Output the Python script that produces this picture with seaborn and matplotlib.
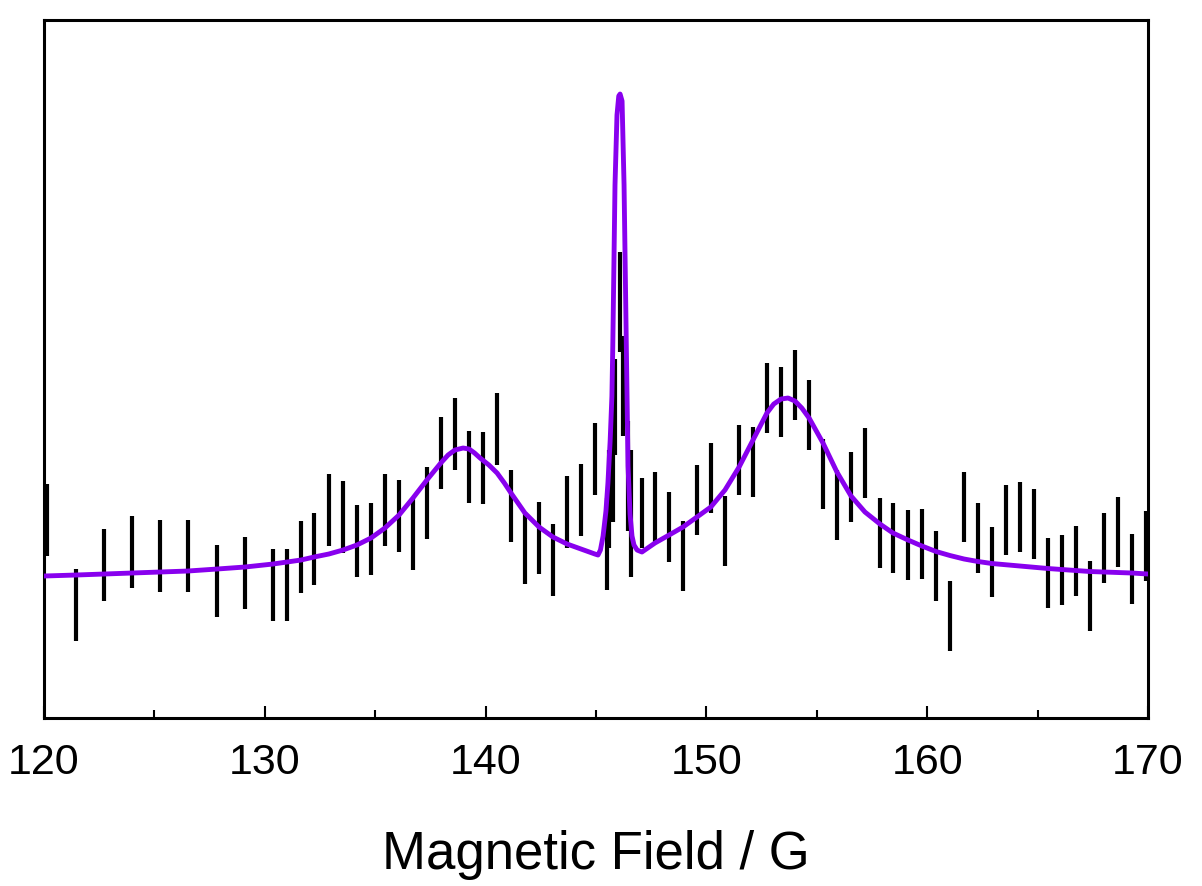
import numpy as np
import pandas as pd
import matplotlib
matplotlib.use("Agg")
import matplotlib.pyplot as plt
import seaborn as sns
from matplotlib.ticker import MultipleLocator

# measured points (field in G, signal in arbitrary units, half error bar)
field = [120.14, 121.45, 122.73, 124.00, 125.25, 126.52, 127.82, 129.09, 130.37,
         130.99, 131.63, 132.24, 132.89, 133.53, 134.16, 134.80, 135.46, 136.08,
         136.73, 137.33, 137.99, 138.60, 139.26, 139.87, 140.53, 141.16, 141.80,
         142.43, 143.07, 143.70, 144.33, 144.97,
         145.50, 145.61, 145.75, 145.88, 146.09, 146.24, 146.45, 146.59,
         147.07, 147.69, 148.32, 148.95, 149.59, 150.22, 150.86, 151.49, 152.12,
         152.76, 153.39, 154.03, 154.66, 155.29, 155.93, 156.56, 157.20, 157.86,
         158.46, 159.13, 159.76, 160.40, 161.02, 161.65, 162.29, 162.92, 163.57,
         164.20, 164.84, 165.48, 166.12, 166.75, 167.39, 168.02, 168.66, 169.29,
         169.91]
signal = [0.56, -0.285, 0.11, 0.24, 0.20, 0.205, -0.05, 0.035, -0.09,
          -0.09, 0.19, 0.27, 0.665, 0.59, 0.35, 0.37, 0.66, 0.60,
          0.42, 0.73, 1.23, 1.42, 1.09, 1.08, 1.475, 0.705, 0.28,
          0.38, 0.165, 0.64, 0.765, 1.175,
          0.32, 0.77, 1.04, 1.69, 2.74, 1.90, 1.00, 0.625,
          0.63, 0.69, 0.49, 0.205, 0.765, 0.98, 0.45, 1.16, 1.14,
          1.78, 1.745, 1.915, 1.61, 1.025, 0.71, 0.89, 1.13, 0.435,
          0.38, 0.315, 0.325, 0.10, -0.40, 0.695, 0.385, 0.145, 0.565,
          0.595, 0.525, 0.035, 0.06, 0.155, -0.195, 0.285, 0.445, 0.075,
          0.305]
error = [0.36] * 32 + [0.46, 0.49, 0.50, 0.48, 0.50, 0.50, 0.55, 0.635] + [0.35] * 37

# fitted spectrum
fit_field = [120.00, 121.45, 122.72, 123.99, 125.25, 126.52, 127.84, 129.10, 130.37,
             131.64, 132.23, 132.90, 133.54, 134.17, 134.81, 135.44, 136.08, 136.71,
             137.34, 137.97, 138.30, 138.61, 138.98, 139.25, 139.50, 139.75, 140.15,
             140.52, 140.85, 141.15, 141.78, 142.42, 143.05, 143.69, 144.32, 144.95,
             145.09, 145.20, 145.32, 145.45, 145.54, 145.64, 145.72, 145.76, 145.81,
             145.86, 145.95, 146.03, 146.09, 146.18, 146.27, 146.36, 146.45, 146.54,
             146.63, 146.72, 146.86, 147.08, 147.67, 148.31, 148.94, 149.57, 150.20,
             150.84, 151.48, 152.11, 152.74, 153.05, 153.38, 153.70, 154.01, 154.32,
             154.65, 155.28, 155.91, 156.55, 157.18, 157.86, 158.45, 159.13, 159.76,
             160.40, 161.03, 161.67, 162.30, 162.93, 164.20, 165.47, 167.37, 169.28,
             170.00]
fit_signal = [0.00, 0.01, 0.02, 0.03, 0.04, 0.05, 0.07, 0.09, 0.12,
              0.16, 0.19, 0.22, 0.26, 0.31, 0.38, 0.48, 0.61, 0.78,
              0.96, 1.13, 1.21, 1.26, 1.28, 1.27, 1.23, 1.18, 1.11,
              1.03, 0.93, 0.83, 0.63, 0.49, 0.39, 0.32, 0.27, 0.22,
              0.21, 0.26, 0.40, 0.65, 0.93, 1.35, 1.80, 2.30, 3.10,
              3.91, 4.61, 4.80, 4.82, 4.75, 3.91, 2.50, 1.10, 0.62,
              0.40, 0.31, 0.26, 0.24, 0.33, 0.41, 0.49, 0.59, 0.69,
              0.86, 1.09, 1.36, 1.63, 1.72, 1.77, 1.78, 1.75, 1.68,
              1.58, 1.33, 1.04, 0.80, 0.64, 0.52, 0.43, 0.36, 0.30,
              0.245, 0.205, 0.17, 0.145, 0.125, 0.10, 0.075, 0.045, 0.03,
              0.02]

data = pd.DataFrame({"field": field, "signal": signal, "error": error})
fit = pd.DataFrame({"field": fit_field, "signal": fit_signal})

sns.set_style("white")
plt.rcParams["font.family"] = ["Liberation Sans", "DejaVu Sans"]
plt.rcParams["text.color"] = "black"
plt.rcParams["axes.labelcolor"] = "black"
plt.rcParams["xtick.color"] = "black"

fig = plt.figure(figsize=(12.02, 8.86), dpi=100)
ax = fig.add_axes([0.0366, 0.1896, 0.9185, 0.7878])

ax.errorbar(data["field"], data["signal"], yerr=data["error"], fmt="none",
            ecolor="black", elinewidth=3, capsize=0, zorder=2)
sns.lineplot(data=fit, x="field", y="signal", ax=ax, color="#8800EE",
             linewidth=3.5, sort=False, zorder=3)

ax.set_xlim(120, 170)
ax.set_ylim(-1.42, 5.56)
ax.xaxis.set_major_locator(MultipleLocator(10))
ax.xaxis.set_minor_locator(MultipleLocator(5))
ax.set_yticks([])
ax.tick_params(axis="x", which="both", direction="in", bottom=True, top=False,
               width=1.5, color="black", labelsize=31, pad=18)
ax.tick_params(axis="x", which="major", length=9)
ax.tick_params(axis="x", which="minor", length=6)
for side in ax.spines.values():
    side.set_color("black")
    side.set_linewidth(2.2)

ax.set_xlabel("Magnetic Field / G", fontsize=38, labelpad=34)
ax.set_ylabel("")

fig.savefig("out.png", dpi=100)
